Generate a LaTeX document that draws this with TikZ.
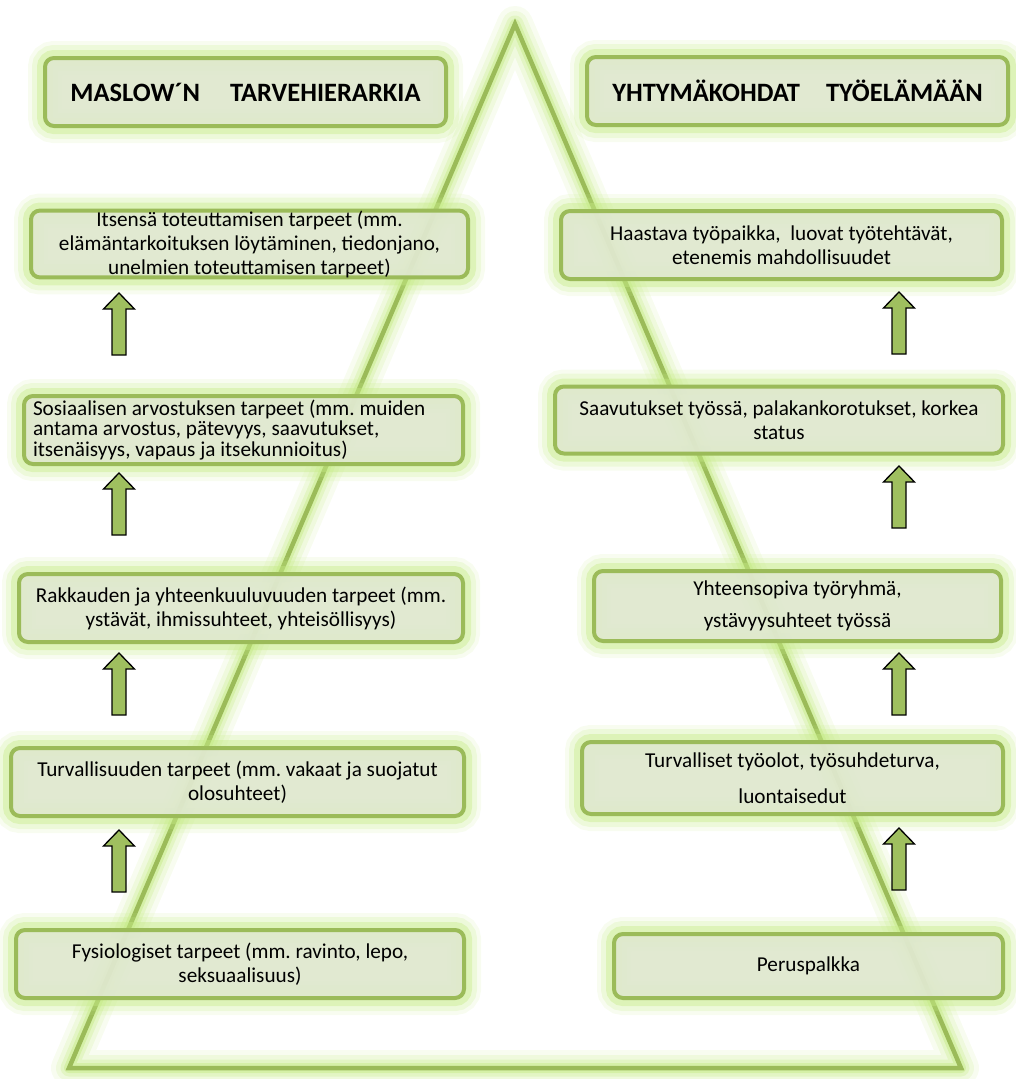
\documentclass[tikz,border=0pt]{standalone}
\usepackage{fontspec}
\setmainfont{Carlito}
\definecolor{olivegreen}{HTML}{9BBB59}
\definecolor{boxfill}{HTML}{DFE8CE}
\definecolor{glowgreen}{HTML}{C4EA84}
\definecolor{arrowfill}{HTML}{9FBF5F}

\begin{document}
\frenchspacing
\begin{tikzpicture}[x=1pt, y=-1pt,
  box/.style={draw=olivegreen, line width=4pt, rounded corners=9pt, fill=boxfill, fill opacity=.94, text opacity=1,
    align=center, inner sep=0pt, font=\fontsize{21.2}{24}\selectfont,
    preaction={draw=glowgreen, line width=34pt, draw opacity=.12},
    preaction={draw=glowgreen, line width=26pt, draw opacity=.2},
    preaction={draw=glowgreen, line width=16pt, draw opacity=.4}},
  headbox/.style={box, font=\fontsize{26.5}{30}\selectfont\bfseries},
  uparrow/.pic={
    \draw[line width=1.3pt, fill=arrowfill, line join=miter]
      (-7,31) -- (-7,-15) -- (-15.5,-15) -- (0,-31) -- (15.5,-15) -- (7,-15) -- (7,31) -- cycle;},
]
  \useasboundingbox (0,0) rectangle (1016,1079);

  % pyramid with glow
  \coordinate (apex) at (515,24);
  \coordinate (bl) at (69,1068);
  \coordinate (br) at (961,1068);
  \foreach \w/\o in {36/.12, 26/.18, 17/.28, 10/.45}
    \draw[glowgreen, line width=\w pt, opacity=\o, line join=round] (apex) -- (br) -- (bl) -- cycle;
  \draw[olivegreen, line width=4.5pt, line join=miter] (apex) -- (br) -- (bl) -- cycle;

  % headers
  \node[headbox, minimum width=401, minimum height=68] (maslow) at (245.5,92) {MASLOW´N\hspace{30pt}TARVEHIERARKIA};
  \node[headbox, minimum width=421, minimum height=68] (work) at (797.5,91) {YHTYMÄKOHDAT\hspace{26pt}TYÖELÄMÄÄN};

  % Maslow levels
  \node[box, minimum width=437, minimum height=66] (self) at (249.5,244)
    {Itsensä toteuttamisen tarpeet (mm.\\ elämäntarkoituksen löytäminen, tiedonjano,\\ unelmien toteuttamisen tarpeet)};
  \node[box, minimum width=439, minimum height=68, align=flush left, text width=421, font=\fontsize{21.2}{20.5}\selectfont] (esteem) at (243.5,430)
    {Sosiaalisen arvostuksen tarpeet (mm. muiden\\ antama arvostus, pätevyys, saavutukset,\\ itsenäisyys, vapaus ja itsekunnioitus)};
  \node[box, minimum width=444, minimum height=68] (love) at (241,608)
    {Rakkauden ja yhteenkuuluvuuden tarpeet (mm.\\ ystävät, ihmissuhteet, yhteisöllisyys)};
  \node[box, minimum width=453, minimum height=68] (safety) at (237.5,782)
    {Turvallisuuden tarpeet (mm. vakaat ja suojatut\\ olosuhteet)};
  \node[box, minimum width=448, minimum height=68] (physio) at (240,964)
    {Fysiologiset tarpeet (mm. ravinto, lepo,\\ seksuaalisuus)};

  % working life
  \node[box, minimum width=441, minimum height=68] (challenge) at (781.5,245)
    {Haastava työpaikka,\ \ luovat työtehtävät,\\ etenemis mahdollisuudet};
  \node[box, minimum width=448, minimum height=67] (status) at (779,420)
    {Saavutukset työssä, palakankorotukset, korkea\\ status};
  \node[box, minimum width=407, minimum height=70, font=\fontsize{21.2}{32}\selectfont] (team) at (797.5,606)
    {Yhteensopiva työryhmä,\\ ystävyysuhteet työssä};
  \node[box, minimum width=421, minimum height=72, font=\fontsize{21.2}{36}\selectfont] (secure) at (792.5,778)
    {Turvalliset työolot, työsuhdeturva,\\ luontaisedut};
  \node[box, minimum width=389, minimum height=64] (salary) at (808.5,966) {Peruspalkka};

  % arrows between levels
  \foreach \n/\x/\y in {l1/119/861, l2/119/684, l3/119/504, l4/119/324,
                        r1/899/859, r2/899/684, r3/899/497, r4/899/323}
    \pic (arr\n) at (\x,\y) {uparrow};
\end{tikzpicture}
\end{document}
